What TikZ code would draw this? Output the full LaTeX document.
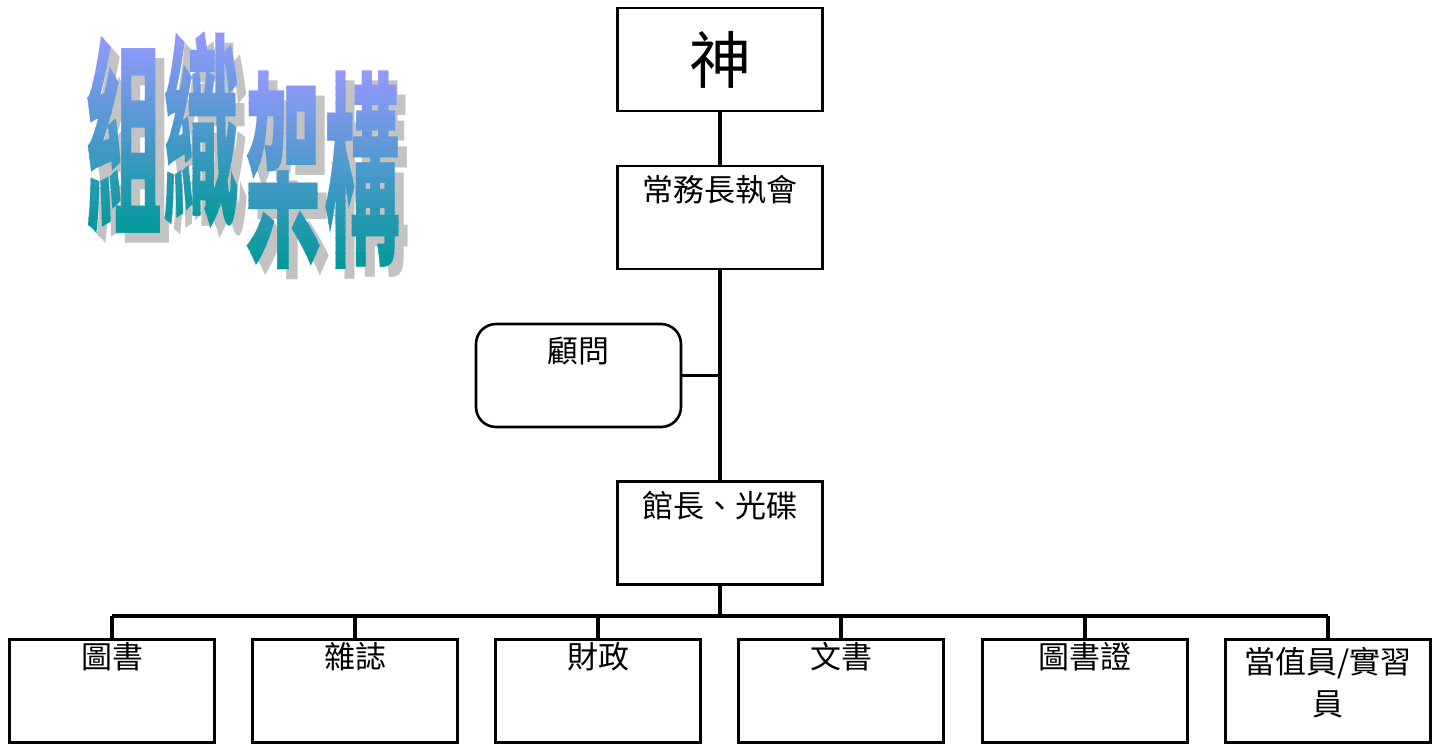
\documentclass[tikz,border=0pt]{standalone}
\usepackage{fontspec}
\usepackage{graphicx}
\newfontfamily\cjk{Noto Sans CJK TC}
\usetikzlibrary{positioning}
\usetikzlibrary{calc}

\definecolor{titletop}{RGB}{153,153,255}
\definecolor{titlebot}{RGB}{0,153,153}
\definecolor{titleshadow}{RGB}{195,195,195}

\newcommand\boxfont{\cjk\fontsize{31}{42}\selectfont}
\newcommand\titlefont{\cjk\bfseries\fontsize{76}{76}\selectfont}
\newcommand\titlechar[1]{\scalebox{1}[2.75]{#1}}

\tikzset{
  orgbox/.style={draw, line width=2.6pt, minimum width=205pt, minimum height=103pt, inner sep=0pt},
  lbl/.style={anchor=north, inner sep=0pt, font=\boxfont, align=center},
  wire/.style={draw, line width=3.4pt},
  titlebase/.style={inner sep=0pt, font=\titlefont},
  shadowchar/.style={titlebase, text=titleshadow}
}

\begin{document}
\begin{tikzpicture}[x=1pt, y=-1pt]
	\useasboundingbox (0,0) rectangle (1435,747);

	% title, gradient made of clipped bands
	\foreach \ch/\px/\py in {組/124/135, 織/201/130, 架/283/170, 構/362/170} {
		\node[shadowchar] at (\px+9,\py+10) {\titlechar{\ch}};
		\foreach \k in {0,...,27} {
			\pgfmathtruncatemacro\pct{100-\k*100/27}
			\begin{scope}
				\clip (\px-55,\py-105+\k*7.5) rectangle (\px+55,\py-97+\k*7.5);
				\node[titlebase, text=titletop!\pct!titlebot] at (\px,\py) {\titlechar{\ch}};
			\end{scope}
		}
	}

	% chain
	\node[orgbox, font=\cjk\fontsize{62}{62}\selectfont] (god) at (720,59.5) {神};
	\node[orgbox, label={[lbl,yshift=-10pt]north:常務長執會}] (exec) at (720,217.5) {};
	\node[orgbox, rounded corners=20pt, label={[lbl,yshift=-14pt]north:顧問}] (advisor) at (578.5,375.5) {};
	\node[orgbox, label={[lbl,yshift=-11pt]north:館長、光碟}] (curator) at (720,533) {};

	% units
	\node[orgbox, label={[lbl,yshift=-4pt]north:圖書}] (books) at (112,691) {};
	\node[orgbox, label={[lbl,yshift=-4pt]north:雜誌}] (mags) at (355,691) {};
	\node[orgbox, label={[lbl,yshift=-4pt]north:財政}] (finance) at (598,691) {};
	\node[orgbox, label={[lbl,yshift=-4pt]north:文書}] (docs) at (841,691) {};
	\node[orgbox, label={[lbl,yshift=-4pt]north:圖書證}] (cards) at (1085,691) {};
	\node[orgbox, label={[lbl,yshift=-9pt]north:當值員/實習\\員}] (duty) at (1328,691) {};

	\coordinate (bus) at (720,616);

	\draw[wire] (god) -- (exec);
	\draw[wire] (exec) -- (curator);
	\draw[wire] (advisor.east) -- (advisor.east -| exec);
	\draw[wire] (curator) -- (bus);
	\draw[wire] (bus -| books) -- (bus -| duty);
	\foreach \n in {books, mags, finance, docs, cards, duty}
		\draw[wire] (bus -| \n) -- (\n.north);
\end{tikzpicture}
\end{document}
